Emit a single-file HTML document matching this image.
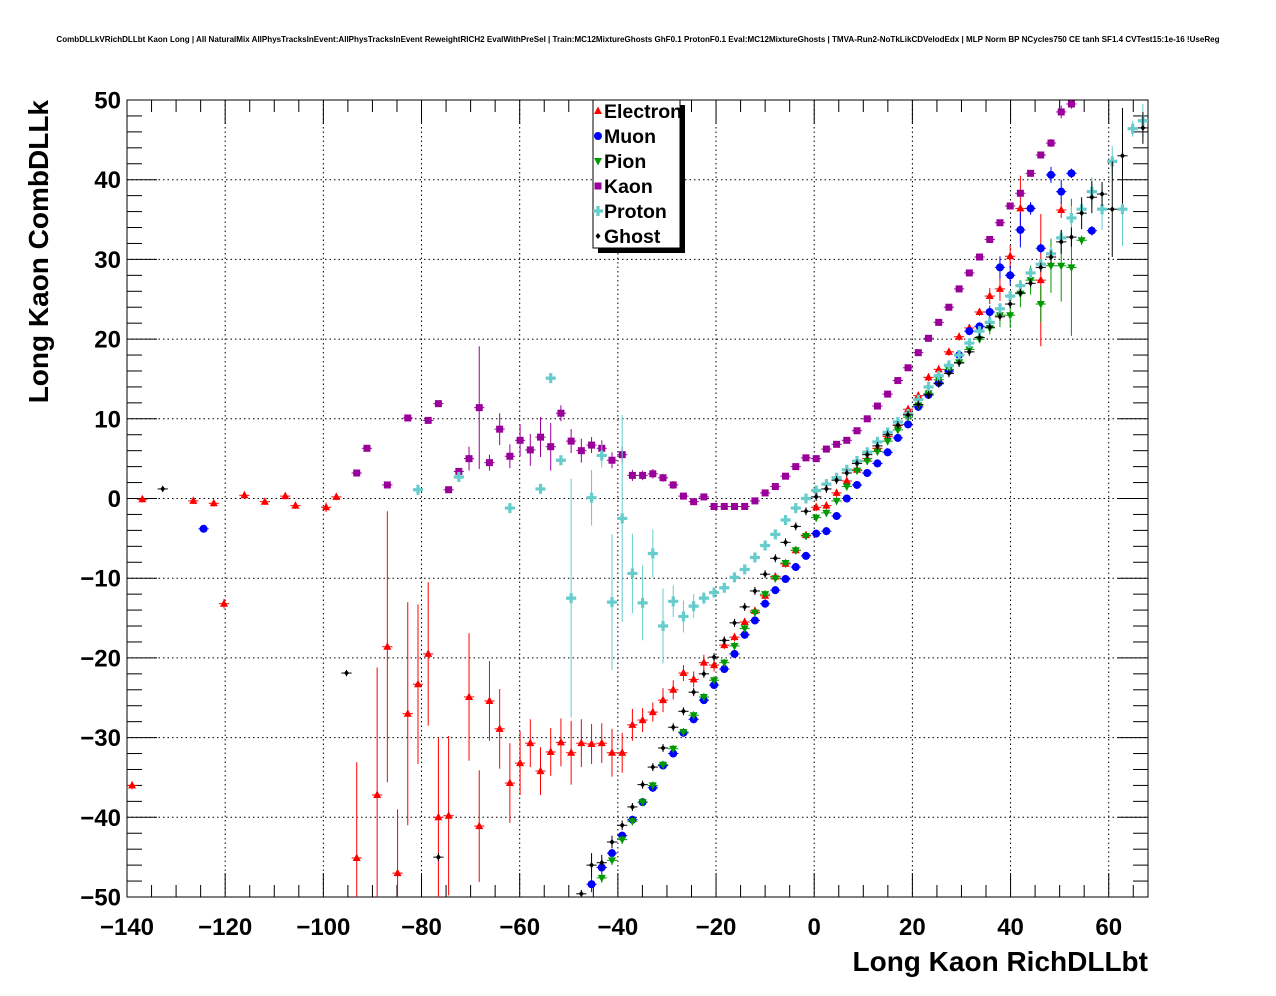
<!DOCTYPE html>
<html><head><meta charset="utf-8"><style>
html,body{margin:0;padding:0;background:#fff;}
svg{display:block;font-family:"Liberation Sans",Arial,sans-serif;}
</style></head><body>
<svg id="chart" width="1276" height="996" viewBox="0 0 1276 996" xmlns="http://www.w3.org/2000/svg">
<rect width="1276" height="996" fill="#fff"/>
<text x="638" y="42" text-anchor="middle" font-size="8.05" font-weight="bold">CombDLLkVRichDLLbt Kaon Long | All NaturalMix AllPhysTracksInEvent:AllPhysTracksInEvent ReweightRICH2 EvalWithPreSel | Train:MC12MixtureGhosts GhF0.1 ProtonF0.1 Eval:MC12MixtureGhosts | TMVA-Run2-NoTkLikCDVelodEdx | MLP Norm BP NCycles750 CE tanh SF1.4 CVTest15:1e-16 !UseReg</text>
<g id="grid"></g>
<g id="axes"></g>
<g id="marks"></g>
<text x="1148" y="971" text-anchor="end" font-size="28" font-weight="bold">Long Kaon RichDLLbt</text>
<text transform="translate(48,100) rotate(-90)" text-anchor="end" font-size="28" font-weight="bold">Long Kaon CombDLLk</text>
<g id="legend"></g>
</svg>
<script>
// binning: 100 bins from -140 to 68
const binLo = -140, binW = 2.08;
const xTicks = [-140,-120,-100,-80,-60,-40,-20,0,20,40,60];
const yTicks = [-50,-40,-30,-20,-10,0,10,20,30,40,50];

const eBins=[0,1,6,8,9,11,13,15,16,19,20,22,24,25,26,27,28,29,30,31,33,34,35,36,37,38,39,40,41,42,43,44,45,46,47,48,49,50,51,52,53,54,55,56,57,58,59,60,61,62,63,64,65,66,67,68,69,70,71,72,73,74,75,76,77,78,79,80,81,82,83,84,85,86,87,89,91];
const eVals=[-36,-0.1,-0.3,-0.6,-13.2,0.4,-0.4,0.3,-0.9,-1.1,0.2,-45.1,-37.2,-18.6,-47,-27,-23.3,-19.5,-40,-39.8,-24.9,-41.1,-25.4,-28.9,-35.7,-33.2,-30.7,-34.2,-31.8,-30.6,-31.9,-30.7,-30.8,-30.7,-31.9,-31.9,-28.4,-27.8,-26.8,-25.3,-24,-21.9,-22.7,-20.6,-20.9,-18.4,-17.4,-15.5,-14.1,-12.2,-9.8,-8.2,-6.5,-4.6,-1.1,-0.9,0.7,2.2,3.6,5.0,6.3,7.8,9.2,11.2,12.9,15.2,16.2,18.4,20.3,21.4,23.4,25.4,26.3,30.4,36.4,27.4,36.2];
const eErrs=[0.5,0.4,0.4,0.4,0.6,0.4,0.4,0.4,0.4,0.6,0.4,12,16,17,8,14,10,9,10,10,8,7,5,5,5,4,3,3,3,3,4,3,2.5,2.5,3,2.5,2,1.5,1.2,1.5,1.2,1,1,1,0.8,0.5,0.5,0.5,0.5,0.5,0.5,0.5,0.5,0.5,0.5,0.5,0.5,0.5,0.5,0.5,0.5,0.5,0.5,0.5,0.5,0.5,0.5,0.5,0.5,0.5,0.5,1,1.5,1.4,4.1,8.3,1];

const mBins=[7,45,46,47,48,49,50,51,52,53,54,55,56,57,58,59,60,61,62,63,64,65,66,67,68,69,70,71,72,73,74,75,76,77,78,79,80,81,82,83,84,85,86,87,88,89,90,91,92,94];
const mVals=[-3.8,-48.4,-46.3,-44.5,-42.3,-40.3,-38.1,-36.3,-33.5,-32,-29.4,-27.7,-25.3,-23.4,-21.4,-19.5,-17.1,-15.3,-13.2,-11.5,-10.1,-8.6,-7.2,-4.4,-4.1,-2.2,0,1.7,3.2,4.4,5.8,7.6,9.3,11.5,13,14.5,16,18,21,21.6,23.4,29,28,33.7,36.4,31.4,40.6,38.5,40.8,33.6];
const mErrs=[0.4,1,1,0.5,0.5,0.5,0.5,0.5,0.5,0.5,0.5,0.5,0.5,0.5,0.5,0.5,0.5,0.5,0.5,0.5,0.5,0.5,0.5,0.5,0.5,0.5,0.5,0.5,0.5,0.5,0.5,0.5,0.5,0.5,0.5,0.5,0.5,0.5,0.5,0.5,0.8,1.4,1.2,2.2,0.8,0.6,1,1.5,0.6,0.6];

const pBins=[46,47,48,49,50,51,52,53,54,55,56,57,58,59,60,61,62,63,64,65,66,67,68,69,70,71,72,73,74,75,76,77,78,79,80,81,82,83,84,85,86,87,88,89,90,91,92,93];
const pVals=[-47.6,-45.4,-42.8,-40.5,-38.1,-36,-33.4,-31.4,-29.3,-27.2,-24.9,-22.8,-20.6,-18.5,-16.3,-14.3,-12,-10,-8.1,-6.5,-4.7,-2.4,-1.8,-0.3,1.5,3.5,4.7,5.9,7.2,8.6,10.2,11.7,13.2,14.9,16.2,17.1,18.7,20,21.4,23,23,25.7,27.4,24.4,29.2,29.2,29,32.4];
const pErrs=[0.6,0.6,0.5,0.5,0.5,0.5,0.5,0.5,0.5,0.5,0.5,0.5,0.5,0.5,0.5,0.5,0.5,0.5,0.5,0.5,0.5,0.5,0.5,0.5,0.5,0.5,0.5,0.5,0.5,0.5,0.5,0.5,0.5,0.5,0.5,0.5,0.5,0.5,0.8,1.5,1.6,1.7,1.8,2.3,3.4,4.5,8.6,0.6];

const kBins=[22,23,25,27,29,30,31,32,33,34,35,36,37,38,39,40,41,42,43,44,45,46,47,48,49,50,51,52,53,54,55,56,57,58,59,60,61,62,63,64,65,66,67,68,69,70,71,72,73,74,75,76,77,78,79,80,81,82,83,84,85,86,87,88,89,90,91,92];
const kVals=[3.2,6.3,1.7,10.1,9.8,11.9,1.1,3.4,5,11.4,4.5,8.7,5.3,7.3,6.1,7.7,6.5,10.7,7.2,6,6.7,6.3,4.8,5.5,2.9,2.9,3.1,2.6,1.7,0.3,-0.4,0.2,-1,-1,-1,-1,-0.3,0.7,1.5,2.8,4,5.1,5,6.2,6.8,7.3,8.5,10,11.6,13.1,14.8,16.4,18.3,20.1,22.1,24,26.3,28.3,30.3,32.5,34.6,36.7,38.3,40.8,43.1,44.6,48.5,49.5];
const kErrs=[0.4,0.4,0.4,0.4,0.4,0.4,0.4,0.4,1.5,7.7,1,2,1.5,2,2,2.5,3,1,1.5,1.5,1,1,1,1,0.7,0.6,0.6,0.5,0.5,0.4,0.4,0.4,0.4,0.4,0.4,0.4,0.4,0.4,0.4,0.4,0.4,0.4,0.4,0.4,0.4,0.4,0.4,0.4,0.4,0.4,0.4,0.4,0.4,0.4,0.4,0.4,0.4,0.4,0.4,0.4,0.4,0.4,0.4,0.4,0.4,0.5,0.8,0.6];

const prBins=[28,32,37,40,41,42,43,45,46,47,48,49,50,51,52,53,54,55,56,57,58,59,60,61,62,63,64,65,66,67,68,69,70,71,72,73,74,75,76,77,78,79,80,81,82,83,84,85,86,87,88,89,90,91,92,93,94,95,96,97,98,99];
const prVals=[1.1,2.7,-1.2,1.2,15.1,4.8,-12.5,0.1,5.4,-13,-2.5,-9.4,-13.1,-6.9,-16,-12.9,-14.8,-13.5,-12.5,-11.8,-11.2,-9.9,-8.9,-7.4,-5.9,-4.5,-2.7,-1.2,0,1,1.8,2.6,3.6,4.7,5.8,7.1,8.3,9.6,10.6,12.4,14,15.4,16.7,18,19.5,21,22.1,23.8,25.4,26.7,28.3,29.4,30.7,32.7,35.2,36.3,38.5,36.3,42.3,36.3,46.4,47.4];
const prErrs=[0.5,0.5,0.5,0.5,0.5,0.5,15,3.5,1.5,8.5,13,5,4.7,3,4.7,2,2,1.5,0.8,0.6,0.5,0.5,0.5,0.5,0.5,0.5,0.5,0.5,0.5,0.5,0.5,0.5,0.5,0.5,0.5,0.5,0.5,0.5,0.5,0.5,0.5,0.5,0.5,0.5,0.5,0.5,0.5,0.5,0.5,0.5,0.5,0.6,0.8,1,1.5,1,1.8,2.6,1.9,4.6,1,2.1];

const gBins=[3,21,30,44,45,46,47,48,49,50,51,52,53,54,55,56,57,58,59,60,61,62,63,64,65,66,67,68,69,70,71,72,73,74,75,76,77,78,79,80,81,82,83,84,85,86,87,88,89,90,91,92,93,94,95,96,97,99];
const gVals=[1.2,-21.9,-45,-49.6,-46,-45.7,-43.1,-41,-38.7,-35.9,-33.7,-31.3,-28.7,-26.7,-24.3,-22,-19.9,-17.8,-15.6,-13.6,-11.6,-9.5,-7.5,-5.5,-3.5,-1.6,0.2,1.2,2.3,3.2,4.4,5.5,6.6,8,9.2,10.5,11.8,13,14.4,15.7,17,18.4,20.2,21.5,22.8,24.4,25.8,27,29,30.3,32.2,32.8,35.8,37.8,38.2,36.3,43,46.5];
const gErrs=[0.4,0.4,0.5,0.5,1.5,1,0.8,0.6,0.5,0.5,0.5,0.5,0.5,0.5,0.5,0.5,0.5,0.5,0.5,0.5,0.5,0.5,0.5,0.5,0.5,0.5,0.5,0.5,0.5,0.5,0.5,0.5,0.5,0.5,0.5,0.5,0.5,0.5,0.5,0.5,0.5,0.5,0.5,0.5,0.5,0.5,0.5,0.5,0.6,0.8,1.5,1.2,2,2,1.5,6,6,2];

const legendNames=["Electron","Muon","Pion","Kaon","Proton","Ghost"];

const NS="http://www.w3.org/2000/svg";
const L=127,R=1148,T=100,B=897,xMin=-140,xMax=68,yMin=-50,yMax=50;
function sx(v){return L+(v-xMin)/(xMax-xMin)*(R-L);}
function sy(v){return B-(v-yMin)/(yMax-yMin)*(B-T);}
function mk(tag,attrs,parent){const e=document.createElementNS(NS,tag);for(const k in attrs)e.setAttribute(k,attrs[k]);parent.appendChild(e);return e;}
const grid=document.getElementById('grid'),axes=document.getElementById('axes'),marks=document.getElementById('marks'),legend=document.getElementById('legend');

xTicks.forEach(t=>{if(t>xMin){const l=mk('line',{x1:sx(t),x2:sx(t),y1:T,y2:B,stroke:'#000','stroke-width':1,'stroke-dasharray':'1.5,3'},grid);

}});
yTicks.forEach(t=>{if(t>yMin&&t<yMax){const l=mk('line',{x1:L,x2:R,y1:sy(t),y2:sy(t),stroke:'#000','stroke-width':1,'stroke-dasharray':'1.5,3'},grid);

}});

const fr=mk('rect',{x:L,y:T,width:R-L,height:B-T,fill:'none',stroke:'#000','stroke-width':1},axes);



for(let v=xMin;v<=xMax;v+=5){const major=(v%20===0);const len=major?24:12;
mk('line',{x1:sx(v),x2:sx(v),y1:B,y2:B-len,stroke:'#000'},axes);
mk('line',{x1:sx(v),x2:sx(v),y1:T,y2:T+len,stroke:'#000'},axes);}
xTicks.forEach(t=>{const tx=mk('text',{x:sx(t),y:935,'text-anchor':'middle','font-size':24,'font-weight':'bold'},axes);tx.textContent=(t<0?'\u2212'+(-t):t);

});
for(let v=yMin;v<=yMax;v+=2){const major=(v%10===0);const len=major?30:15;
mk('line',{x1:L,x2:L+len,y1:sy(v),y2:sy(v),stroke:'#000'},axes);
mk('line',{x1:R,x2:R-len,y1:sy(v),y2:sy(v),stroke:'#000'},axes);}
yTicks.forEach(t=>{const tx=mk('text',{x:121,y:sy(t)+8.5,'text-anchor':'end','font-size':24,'font-weight':'bold'},axes);tx.textContent=(t<0?'\u2212'+(-t):t);

});

function marker(kind,color,cx,cy,parent){
  let e;
  if(kind==='tri') e=mk('polygon',{points:`${cx},${cy-4.5} ${cx+4},${cy+3} ${cx-4},${cy+3}`,fill:color},parent);
  else if(kind==='circ') e=mk('circle',{cx:cx,cy:cy,r:4,fill:color},parent);
  else if(kind==='tridown') e=mk('polygon',{points:`${cx},${cy+4.5} ${cx+4},${cy-3} ${cx-4},${cy-3}`,fill:color},parent);
  else if(kind==='sq') e=mk('rect',{x:cx-3.5,y:cy-3.5,width:7,height:7,fill:color},parent);
  else if(kind==='cross') e=mk('path',{d:`M${cx-1.6},${cy-5}h3.2v3.4h3.4v3.2h-3.4v3.4h-3.2v-3.4h-3.4v-3.2h3.4z`,fill:color},parent);
  else e=mk('polygon',{points:`${cx},${cy-3} ${cx+2.5},${cy} ${cx},${cy+3} ${cx-2.5},${cy}`,fill:color},parent);
  return e;
}
const series=[
 {name:'electron',bins:eBins,vals:eVals,errs:eErrs,color:'#ff0000',kind:'tri'},
 {name:'muon',bins:mBins,vals:mVals,errs:mErrs,color:'#0000ff',kind:'circ'},
 {name:'pion',bins:pBins,vals:pVals,errs:pErrs,color:'#009900',kind:'tridown'},
 {name:'kaon',bins:kBins,vals:kVals,errs:kErrs,color:'#990099',kind:'sq'},
 {name:'proton',bins:prBins,vals:prVals,errs:prErrs,color:'#66cccc',kind:'cross'},
 {name:'ghost',bins:gBins,vals:gVals,errs:gErrs,color:'#000000',kind:'dia'}
];
series.forEach(s=>{
 const g=mk('g',{},marks);
 
 
 s.bins.forEach((b,i)=>{
  const xc=binLo+binW*(b+0.5), v=s.vals[i], er=s.errs[i];
  const cx=sx(xc), cy=sy(v);
  if(v<yMin-1||v>yMax+1) return;
  mk('line',{x1:sx(xc-binW/2),x2:sx(xc+binW/2),y1:cy,y2:cy,stroke:s.color,'stroke-width':1},g);
  const y1=Math.max(T,Math.min(B,sy(v+er))), y2=Math.max(T,Math.min(B,sy(v-er)));
  mk('line',{x1:cx,x2:cx,y1:y1,y2:y2,stroke:s.color,'stroke-width':1},g);
  const m=marker(s.kind,s.color,cx,cy,g);
  
  
 });
});

mk('rect',{x:598,y:105,width:87,height:148,fill:'#000'},legend);
const lb=mk('rect',{x:593,y:100,width:87,height:148,fill:'#fff',stroke:'#000','stroke-width':1},legend);


legendNames.forEach((n,i)=>{
 const y=111+i*25;
 const ent=mk('g',{},legend);
 
 
 marker(series[i].kind,series[i].color,598,y,ent);
 const t=mk('text',{x:604,y:y+7,'font-size':19.5,'font-weight':'bold'},ent);
 t.textContent=n;
});
</script>
</body></html>
